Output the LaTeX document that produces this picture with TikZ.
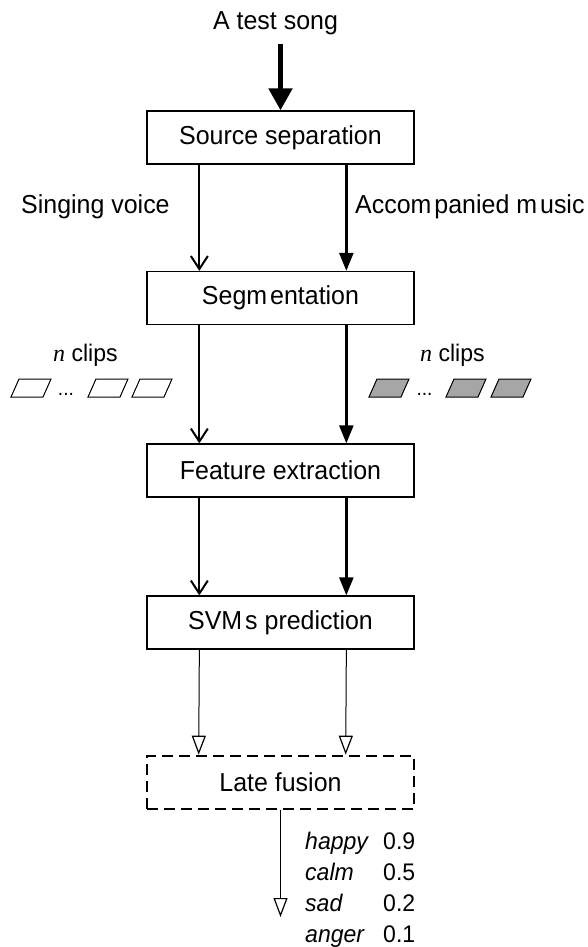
\documentclass[tikz,border=0pt]{standalone}
\usepackage{fontspec}
\setmainfont{Liberation Sans}[FakeStretch=0.96]
\newfontfamily\serifit{Liberation Serif}
\usetikzlibrary{arrows.meta}

\tikzset{
  stage/.style={draw, line width=1.3pt, minimum width=267pt, minimum height=53pt,
    inner sep=0pt, font=\fontsize{26}{30}\selectfont},
  fusebox/.style={stage, line width=2.6pt, dash pattern=on 11pt off 6pt},
  lbl/.style={inner sep=0pt, anchor=base west, font=\fontsize{26}{30}\selectfont},
  emo/.style={inner sep=0pt, anchor=base west, font=\fontsize{24}{28}\selectfont},
  dotsl/.style={inner sep=0pt, anchor=base, font=\fontsize{20}{22}\selectfont},
  openv/.style={line width=2pt, -{Straight Barb[length=13pt,width=17pt,line width=2pt]}},
  solidtri/.style={line width=2.4pt, -{Triangle[length=18pt,width=14pt]}},
  hollow/.style={line width=1pt, -{Triangle[open,length=19pt,width=14pt,line width=1.2pt,fill=white]}},
  bigarrow/.style={line width=5pt, -{Triangle[length=22pt,width=23pt]}},
  clip/.style={line width=1pt},
  clipfill/.style={clip, fill=black!35}
}
\newcommand{\clipshape}[2]{\draw[#1] (#2,397) -- ++(32,0) -- ++(8,-18) -- ++(-32,0) -- cycle;}

\begin{document}
\begin{tikzpicture}[x=1pt, y=-1pt]
\useasboundingbox (0,0) rectangle (587,947);

% input label
\node[inner sep=0pt, anchor=base, font=\fontsize{26}{30}\selectfont] (song) at (275.5,30) {A test song};

% processing stages
\node[stage] (src)  at (280.5,137.5) {Source separation};
\node[stage] (seg)  at (280.5,298)   {Segm\kern3ptentation};
\node[stage] (feat) at (280.5,470.5) {Feature extraction};
\node[stage] (svm)  at (280.5,622.5) {SVM\kern3pts prediction};
\node[fusebox] (fuse) at (280.5,782.5) {Late fusion};

% song into the separator
\draw[bigarrow] ([yshift=-8pt]song.south -| src.north) -- (src.north);

% two streams
\node[lbl] (voice) at (21,213) {Singing voice};
\node[lbl] (music) at (355,213) {Accom\kern3ptpanied m\kern3ptusic};

\draw[openv]    ([xshift=53pt]src.south west)  -- ([xshift=53pt]seg.north west);
\draw[solidtri] ([xshift=200pt]src.south west) -- ([xshift=200pt]seg.north west);
\draw[openv]    ([xshift=53pt]seg.south west)  -- ([xshift=53pt]feat.north west);
\draw[solidtri] ([xshift=200pt]seg.south west) -- ([xshift=200pt]feat.north west);
\draw[openv]    ([xshift=53pt]feat.south west)  -- ([xshift=53pt]svm.north west);
\draw[solidtri] ([xshift=200pt]feat.south west) -- ([xshift=200pt]svm.north west);
\draw[hollow]   ([xshift=53pt]svm.south west)  -- ([xshift=53pt]fuse.north west);
\draw[hollow]   ([xshift=200pt]svm.south west) -- ([xshift=200pt]fuse.north west);

% clips of the singing voice
\node[lbl, font=\fontsize{24}{28}\selectfont] (nl) at (53,361) {{\serifit\itshape n} clips};
\clipshape{clip}{11}
\node[dotsl] (dl) at (66,395) {...};
\clipshape{clip}{88}
\clipshape{clip}{132}

% clips of the accompaniment
\node[lbl, font=\fontsize{24}{28}\selectfont] (nr) at (420,361) {{\serifit\itshape n} clips};
\clipshape{clipfill}{369}
\node[dotsl] (dr) at (424.5,395) {...};
\clipshape{clipfill}{446}
\clipshape{clipfill}{491}

% fused output
\coordinate (out) at (280.5,917);
\draw[hollow] (fuse.south) -- (out);

\node[emo] (e1) at (305,849) {\itshape happy};
\node[emo] (v1) at (383,849) {0.9};
\node[emo] (e2) at (305,880) {\itshape calm};
\node[emo] (v2) at (383,880) {0.5};
\node[emo] (e3) at (305,911) {\itshape sad};
\node[emo] (v3) at (383,911) {0.2};
\node[emo] (e4) at (305,942) {\itshape anger};
\node[emo] (v4) at (383,942) {0.1};
\end{tikzpicture}
\end{document}
